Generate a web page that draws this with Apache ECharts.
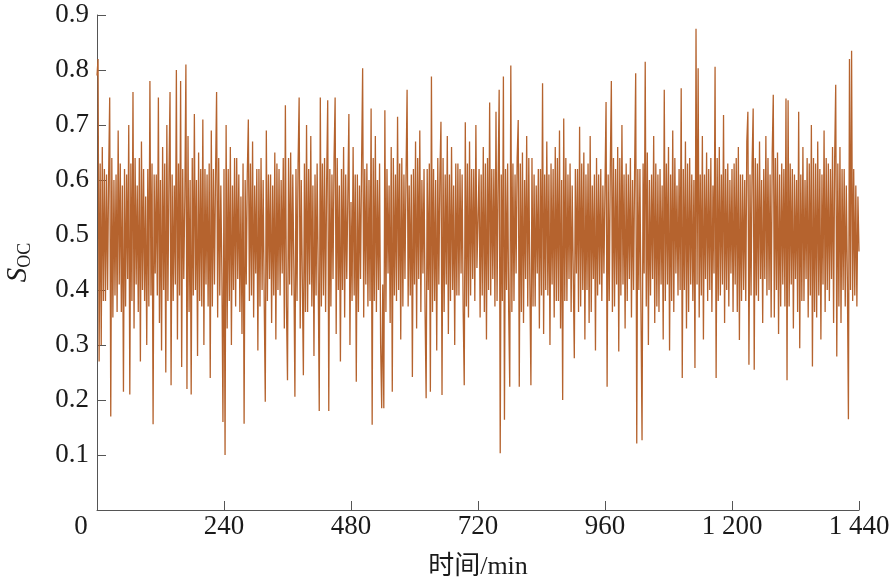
<!DOCTYPE html>
<html>
<head>
<meta charset="utf-8">
<script src="https://cdn.jsdelivr.net/npm/echarts@6/dist/echarts.min.js"></script>
<style>
html,body{margin:0;padding:0;background:#fff;}
#chart{width:891px;height:577px;}
</style>
</head>
<body>
<div id="chart"></div>
<script>
// Time step (minutes) between samples and tick values
var stepMinutes = 2;
var xTicks = [0, 240, 480, 720, 960, 1200, 1440];
var yTicks = [0.1, 0.2, 0.3, 0.4, 0.5, 0.6, 0.7, 0.8, 0.9];

// S_OC values, block by block (each block = 240 min, 2-min step)
var soc0to240 = [
0.79,0.82,0.27,0.63,0.30,0.66,0.38,0.62,0.38,0.61,
0.40,0.61,0.75,0.17,0.64,0.35,0.60,0.39,0.61,0.36,
0.69,0.41,0.63,0.36,0.59,0.215,0.62,0.37,0.61,0.42,
0.70,0.21,0.63,0.38,0.76,0.33,0.64,0.41,0.59,0.36,
0.64,0.27,0.67,0.40,0.62,0.38,0.57,0.30,0.62,0.37,
0.78,0.39,0.63,0.156,0.61,0.43,0.61,0.39,0.75,0.34,
0.60,0.29,0.66,0.40,0.63,0.25,0.70,0.38,0.61,0.76,
0.227,0.61,0.38,0.59,0.41,0.80,0.31,0.63,0.39,0.78,
0.26,0.62,0.42,0.57,0.81,0.22,0.68,0.36,0.60,0.21,
0.64,0.39,0.72,0.40,0.60,0.28,0.65,0.38,0.62,0.37,
0.71,0.30,0.62,0.41,0.61,0.37,0.63,0.24,0.69,0.37,
0.62,0.41,0.61,0.76,0.35,0.64,0.39,0.59,0.43,0.16];
var soc240to480 = [
0.62,0.10,0.70,0.33,0.62,0.38,0.66,0.30,0.59,0.40,
0.64,0.37,0.64,0.42,0.61,0.36,0.57,0.32,0.63,0.157,
0.60,0.41,0.61,0.71,0.38,0.63,0.39,0.67,0.35,0.59,
0.43,0.62,0.29,0.62,0.37,0.64,0.40,0.60,0.38,0.197,
0.69,0.38,0.61,0.42,0.61,0.34,0.59,0.39,0.65,0.31,
0.63,0.40,0.62,0.39,0.60,0.43,0.64,0.33,0.736,0.37,
0.236,0.64,0.41,0.65,0.39,0.61,0.44,0.206,0.62,0.38,
0.63,0.75,0.33,0.60,0.42,0.245,0.63,0.36,0.70,0.36,
0.62,0.41,0.68,0.37,0.59,0.28,0.61,0.39,0.63,0.43,
0.18,0.75,0.37,0.63,0.39,0.64,0.36,0.60,0.745,0.18,
0.62,0.37,0.61,0.42,0.64,0.75,0.32,0.64,0.40,0.59,
0.27,0.62,0.40,0.66,0.35,0.61,0.42,0.57,0.72,0.30];
var soc480to720 = [
0.56,0.38,0.66,0.39,0.61,0.233,0.61,0.36,0.59,0.42,
0.63,0.803,0.35,0.62,0.41,0.63,0.37,0.60,0.38,0.73,
0.155,0.64,0.38,0.68,0.36,0.60,0.40,0.63,0.30,0.185,
0.41,0.185,0.727,0.36,0.62,0.43,0.59,0.34,0.66,0.215,
0.64,0.39,0.61,0.38,0.715,0.40,0.63,0.31,0.64,0.37,
0.61,0.42,0.61,0.764,0.37,0.59,0.39,0.61,0.242,0.62,
0.41,0.67,0.33,0.64,0.42,0.69,0.36,0.60,0.43,0.62,
0.36,0.203,0.62,0.40,0.63,0.215,0.788,0.36,0.62,0.38,
0.60,0.29,0.64,0.41,0.61,0.706,0.209,0.64,0.36,0.61,
0.41,0.68,0.32,0.61,0.38,0.66,0.40,0.59,0.30,0.63,
0.39,0.63,0.39,0.62,0.43,0.61,0.36,0.227,0.705,0.37,
0.63,0.35,0.67,0.39,0.62,0.42,0.62,0.38,0.70,0.44];
var soc720to960 = [
0.44,0.62,0.35,0.61,0.39,0.66,0.36,0.63,0.31,0.64,
0.40,0.741,0.39,0.62,0.42,0.62,0.37,0.724,0.38,0.60,
0.764,0.103,0.61,0.38,0.788,0.164,0.62,0.40,0.63,0.36,
0.224,0.808,0.36,0.63,0.38,0.61,0.43,0.64,0.709,0.224,
0.63,0.36,0.65,0.34,0.60,0.42,0.68,0.37,0.64,0.41,
0.227,0.64,0.37,0.61,0.37,0.59,0.43,0.62,0.33,0.62,
0.39,0.776,0.32,0.61,0.40,0.67,0.39,0.61,0.30,0.63,
0.41,0.62,0.35,0.66,0.38,0.64,0.38,0.69,0.33,0.60,
0.20,0.712,0.38,0.64,0.38,0.61,0.42,0.63,0.36,0.59,
0.43,0.276,0.62,0.43,0.62,0.36,0.697,0.37,0.63,0.40,
0.65,0.31,0.61,0.40,0.63,0.34,0.68,0.36,0.59,0.42,
0.61,0.29,0.64,0.39,0.61,0.41,0.62,0.38,0.59,0.43];
var soc960to1200 = [
0.59,0.742,0.224,0.61,0.38,0.62,0.78,0.36,0.64,0.37,
0.62,0.41,0.66,0.288,0.64,0.39,0.70,0.41,0.61,0.33,
0.63,0.38,0.61,0.42,0.64,0.35,0.60,0.40,0.62,0.794,
0.121,0.62,0.40,0.62,0.36,0.127,0.63,0.43,0.815,0.37,
0.65,0.30,0.60,0.39,0.61,0.42,0.68,0.34,0.63,0.37,
0.61,0.36,0.62,0.41,0.59,0.31,0.764,0.38,0.63,0.41,
0.66,0.29,0.61,0.38,0.69,0.36,0.64,0.43,0.59,0.39,
0.62,0.40,0.767,0.24,0.62,0.40,0.67,0.33,0.63,0.36,
0.64,0.41,0.61,0.38,0.60,0.258,0.875,0.41,0.803,0.35,
0.61,0.39,0.68,0.31,0.61,0.42,0.65,0.38,0.62,0.40,
0.64,0.36,0.59,0.43,0.806,0.24,0.64,0.38,0.66,0.39,
0.61,0.41,0.718,0.34,0.62,0.40,0.63,0.37,0.60,0.43];
var soc1200to1440 = [
0.62,0.36,0.63,0.41,0.64,0.36,0.66,0.309,0.61,0.38,
0.61,0.40,0.60,0.38,0.67,0.724,0.264,0.61,0.39,0.63,
0.73,0.255,0.64,0.39,0.63,0.38,0.67,0.42,0.60,0.34,
0.62,0.42,0.68,0.39,0.64,0.40,0.61,0.35,0.65,0.755,
0.35,0.64,0.40,0.65,0.32,0.61,0.37,0.63,0.41,0.62,
0.37,0.748,0.236,0.745,0.37,0.63,0.41,0.62,0.33,0.61,
0.42,0.60,0.36,0.724,0.294,0.61,0.38,0.66,0.38,0.60,
0.42,0.64,0.35,0.63,0.39,0.70,0.261,0.64,0.36,0.63,
0.35,0.67,0.39,0.62,0.31,0.61,0.41,0.69,0.36,0.64,
0.40,0.63,0.38,0.62,0.42,0.66,0.34,0.64,0.773,0.279,
0.63,0.37,0.66,0.34,0.62,0.40,0.62,0.37,0.59,0.42,
0.165,0.82,0.40,0.835,0.38,0.62,0.39,0.59,0.37,0.57,
0.47];

var socValues = [].concat(soc0to240, soc240to480, soc480to720, soc720to960, soc960to1200, soc1200to1440);
var seriesData = socValues.map(function (v, i) { return [i * stepMinutes, v]; });

var font = '"Liberation Serif", "Times New Roman", "Noto Sans CJK SC", serif';
var axisColor = '#555555';
var textColor = '#1a1a1a';

var chart = echarts.init(document.getElementById('chart'), null, {renderer: 'canvas'});
chart.setOption({
  animation: false,
  backgroundColor: '#ffffff',
  grid: {left: 97, right: 32, top: 15, bottom: 67, containLabel: false, outerBoundsMode: 'none'},
  xAxis: {
    type: 'value',
    min: xTicks[0],
    max: xTicks[xTicks.length - 1],
    interval: 240,
    name: '时间/min',
    nameLocation: 'middle',
    nameGap: 44,
    nameTextStyle: {fontFamily: font, fontSize: 26, color: textColor},
    axisLine: {show: true, lineStyle: {color: axisColor, width: 1}},
    axisTick: {show: true, inside: true, length: 9, lineStyle: {color: axisColor}},
    splitLine: {show: false},
    axisLabel: {
      fontFamily: font, fontSize: 27, color: textColor, margin: 3,
      formatter: function (v) {
        if (v === 0) return '{z|0}';
        var s = String(v);
        if (s.length > 3) s = s.slice(0, s.length - 3) + ' ' + s.slice(s.length - 3);
        return s;
      },
      rich: {z: {fontFamily: font, fontSize: 27, color: textColor, padding: [0, 32, 0, 0]}}
    }
  },
  yAxis: {
    type: 'value',
    min: 0,
    max: 0.9,
    interval: 0.1,
    name: '{s|S}{sub|OC}',
    nameLocation: 'middle',
    nameGap: 63,
    nameRotate: 90,
    nameTextStyle: {
      rich: {
        s: {fontFamily: font, fontSize: 29, fontStyle: 'italic', color: textColor},
        sub: {fontFamily: font, fontSize: 18, color: textColor, padding: [14, 0, 0, 0]}
      }
    },
    axisLine: {show: true, lineStyle: {color: axisColor, width: 1}},
    axisTick: {show: true, inside: true, length: 9, lineStyle: {color: axisColor}},
    splitLine: {show: false},
    axisLabel: {
      fontFamily: font, fontSize: 27, color: textColor, margin: 8,
      formatter: function (v) { return v === 0 ? '' : v.toFixed(1); }
    }
  },
  series: [{
    type: 'line',
    data: seriesData,
    showSymbol: false,
    symbol: 'none',
    lineStyle: {color: '#b5632e', width: 1.3},
    z: 1
  }]
});
</script>
</body>
</html>
